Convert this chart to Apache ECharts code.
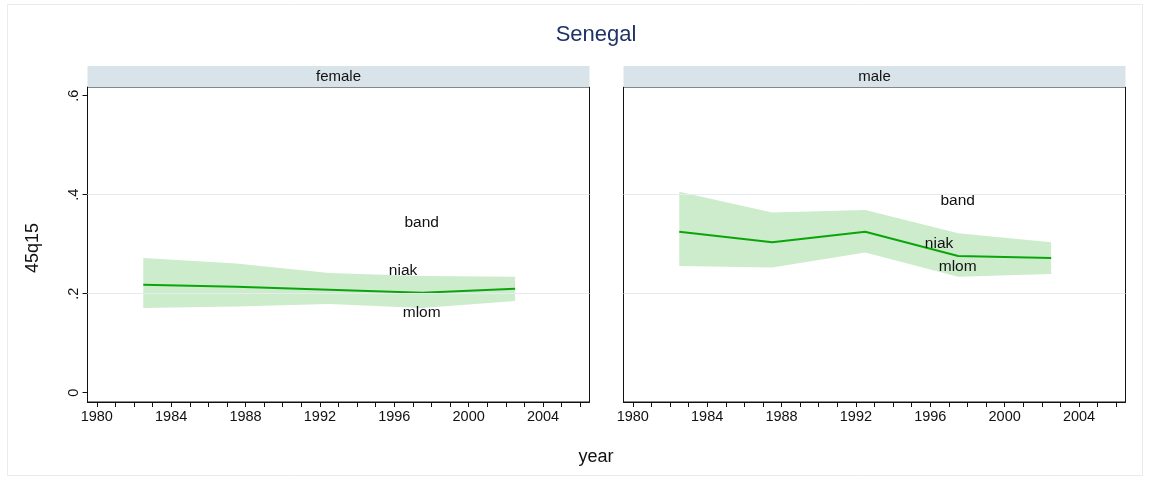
<!DOCTYPE html>
<html><head><meta charset="utf-8">
<script src="https://cdn.jsdelivr.net/npm/echarts@6/dist/echarts.min.js"></script>
<style>html,body{margin:0;padding:0;background:#fff}#c{width:1150px;height:479px}</style>
</head><body><div id="c"></div>
<script>
const chartTitle = 'Senegal';
const panels = ['female', 'male'];
const years = [1982.5, 1987.5, 1992.5, 1997.5, 2002.5];
const femaleMean  = [0.218, 0.214, 0.208, 0.202, 0.210];
const femaleUpper = [0.272, 0.261, 0.242, 0.236, 0.234];
const femaleLower = [0.171, 0.174, 0.179, 0.171, 0.185];
const maleMean  = [0.325, 0.304, 0.325, 0.276, 0.272];
const maleUpper = [0.406, 0.364, 0.369, 0.322, 0.304];
const maleLower = [0.256, 0.253, 0.283, 0.234, 0.240];
const textLabels = ['band', 'niak', 'mlom'];
const femaleTextX = [1997.5, 1996.5, 1997.5];
const femaleTextY = [0.342, 0.245, 0.160];
const maleTextX = [1997.5, 1996.5, 1997.5];
const maleTextY = [0.386, 0.299, 0.253];
const xTickLabels = [1980, 1984, 1988, 1992, 1996, 2000, 2004];
const xMinorTicks = [1980, 1981, 1982, 1983, 1984, 1985, 1986, 1987, 1988, 1989, 1990, 1991, 1992, 1993, 1994, 1995, 1996, 1997, 1998, 1999, 2000, 2001, 2002, 2003, 2004, 2005, 2006];
const yTickValues = [0, 0.2, 0.4, 0.6];
const yTickLabels = ['0', '.2', '.4', '.6'];
const gridValues = [0.2, 0.4];
const xAxisTitle = 'year';
const yAxisTitle = '45q15';

const FONT = "'Liberation Sans', Arial, Helvetica, sans-serif";
const LINE = '#0aa50a';
const FILL = '#cdeccc';
const INK = '#111111';

const panelData = [
  {mean: femaleMean, upper: femaleUpper, lower: femaleLower, tx: femaleTextX, ty: femaleTextY},
  {mean: maleMean, upper: maleUpper, lower: maleLower, tx: maleTextX, ty: maleTextY}
];
const gridLefts = [87.5, 623.5];
const gridW = 502, gridTop = 87, gridH = 315;

const chart = echarts.init(document.getElementById('c'), null, {renderer: 'canvas'});

const grids = [], xAxes = [], yAxes = [], series = [], graphics = [];
panels.forEach((p, i) => {
  grids.push({left: gridLefts[i], top: gridTop, width: gridW, height: gridH, show: true,
    borderColor: '#111', borderWidth: 1, backgroundColor: '#fff', containLabel: false});
  xAxes.push({type: 'value', gridIndex: i, min: 1979.5, max: 2006.5,
    axisLine: {show: true, onZero: false, lineStyle: {color: '#111', width: 1}},
    axisTick: {show: true, length: 5, customValues: xMinorTicks, lineStyle: {color: '#111'}},
    axisLabel: {show: true, customValues: xTickLabels, margin: 7, fontSize: 14.5, color: INK, fontFamily: FONT,
      formatter: v => String(Math.round(v))},
    splitLine: {show: false}, minorTick: {show: false}});
  yAxes.push({type: 'value', gridIndex: i, min: -0.0188, max: 0.6176,
    axisLine: {show: i === 0, onZero: false, lineStyle: {color: '#111', width: 1}},
    axisTick: {show: i === 0, length: 5, customValues: yTickValues, lineStyle: {color: '#111'}},
    axisLabel: {show: i === 0, customValues: yTickValues, rotate: 90, margin: 6, fontSize: 14.5, color: INK, fontFamily: FONT,
      formatter: v => { let k = yTickValues.findIndex(t => Math.abs(t - v) < 1e-6); return k >= 0 ? yTickLabels[k] : ''; }},
    splitLine: {show: false}});
  const d = panelData[i];
  // gridlines
  series.push({type: 'line', xAxisIndex: i, yAxisIndex: i, data: [], z: 0, silent: true,
    markLine: {silent: true, symbol: 'none', label: {show: false}, animation: false,
      lineStyle: {color: '#e4ecef', width: 1, type: 'solid'},
      data: gridValues.map(v => ({yAxis: v}))}});
  // band
  series.push({type: 'custom', xAxisIndex: i, yAxisIndex: i, z: 1, silent: true,
    data: years.map((y, k) => [y, d.lower[k], d.upper[k]]),
    encode: {x: 0, y: [1, 2]},
    renderItem: (params, api) => {
      if (params.dataIndex !== 0) return null;
      const pts = [];
      for (let k = 0; k < years.length; k++) pts.push(api.coord([years[k], d.upper[k]]));
      for (let k = years.length - 1; k >= 0; k--) pts.push(api.coord([years[k], d.lower[k]]));
      return {type: 'polygon', shape: {points: pts}, style: {fill: FILL}};
    }});
  // mean line
  series.push({type: 'line', xAxisIndex: i, yAxisIndex: i, z: 3, symbol: 'none', silent: true,
    data: years.map((y, k) => [y, d.mean[k]]),
    lineStyle: {color: LINE, width: 2}});
  // text markers
  series.push({type: 'scatter', xAxisIndex: i, yAxisIndex: i, z: 4, silent: true, symbolSize: 1,
    itemStyle: {color: 'rgba(0,0,0,0)'},
    data: textLabels.map((t, k) => [d.tx[k], d.ty[k], t]),
    label: {show: true, position: [0, 0], formatter: q => q.data[2], color: INK, opacity: 1,
      textBorderWidth: 0, fontSize: 15.5, fontFamily: FONT, align: 'center', verticalAlign: 'middle'}});
  // panel header strip
  graphics.push({type: 'rect', z: 10, shape: {x: gridLefts[i], y: 66, width: gridW, height: 21},
    style: {fill: '#d9e4ea'}});
  graphics.push({type: 'text', z: 11, x: gridLefts[i] + gridW / 2, y: 77,
    style: {text: p, align: 'center', verticalAlign: 'middle', textAlign: 'center', textVerticalAlign: 'middle',
      font: '15px ' + FONT, fill: INK}});
});

// outer frame
graphics.push({type: 'rect', z: 0, shape: {x: 7.5, y: 4.5, width: 1135, height: 471},
  style: {fill: 'none', stroke: '#e4ecef', lineWidth: 1}});
// title
graphics.push({type: 'text', z: 11, x: 596, y: 35,
  style: {text: chartTitle, align: 'center', verticalAlign: 'middle', textAlign: 'center', textVerticalAlign: 'middle',
    font: '22px ' + FONT, fill: '#1f3366'}});
// axis titles
graphics.push({type: 'text', z: 11, x: 33, y: 248, rotation: Math.PI / 2,
  style: {text: yAxisTitle, align: 'center', verticalAlign: 'middle', textAlign: 'center', textVerticalAlign: 'middle',
    font: '18px ' + FONT, fill: INK}});
graphics.push({type: 'text', z: 11, x: 596, y: 457,
  style: {text: xAxisTitle, align: 'center', verticalAlign: 'middle', textAlign: 'center', textVerticalAlign: 'middle',
    font: '18px ' + FONT, fill: INK}});

chart.setOption({
  animation: false,
  backgroundColor: '#fff',
  grid: grids, xAxis: xAxes, yAxis: yAxes, series: series, graphic: {elements: graphics}
});
</script></body></html>
